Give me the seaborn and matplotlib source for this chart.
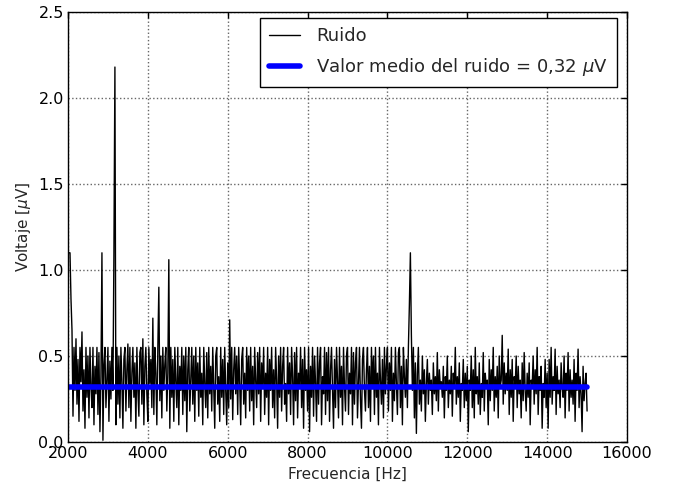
import matplotlib
matplotlib.use("Agg")
import matplotlib.pyplot as plt
import seaborn as sns
import pandas as pd

freq_start = 2000
freq_step = 25
voltaje = [
    1.10, 1.10, 1.10, 0.83, 0.65, 0.15, 0.55, 0.30, 0.60, 0.22, 0.48, 0.12, 0.55, 0.35, 0.64, 0.18, 0.42, 0.08, 0.55, 0.26,
    0.50, 0.14, 0.55, 0.32, 0.20, 0.55, 0.10, 0.44, 0.28, 0.55, 0.16, 0.52, 0.06, 0.38, 1.10, 0.01, 0.45, 0.55, 0.20, 0.36,
    0.55, 0.12, 0.47, 0.25, 0.55, 0.30, 1.10, 2.18, 0.10, 0.55, 0.22, 0.50, 0.14, 0.55, 0.35, 0.08, 0.48, 0.55, 0.18, 0.42,
    0.57, 0.20, 0.55, 0.12, 0.40, 0.55, 0.26, 0.46, 0.08, 0.55, 0.30, 0.15, 0.52, 0.55, 0.22, 0.60, 0.10, 0.44, 0.55, 0.28,
    0.12, 0.55, 0.34, 0.48, 0.20, 0.72, 0.16, 0.55, 0.40, 0.10, 0.55, 0.90, 0.24, 0.50, 0.14, 0.55, 0.30, 0.45, 0.55, 0.18,
    0.40, 1.06, 0.08, 0.55, 0.26, 0.48, 0.12, 0.55, 0.35, 0.20, 0.55, 0.10, 0.44, 0.30, 0.55, 0.16, 0.50, 0.24, 0.55, 0.06,
    0.42, 0.55, 0.18, 0.36, 0.55, 0.22, 0.50, 0.12, 0.55, 0.30, 0.46, 0.15, 0.55, 0.26, 0.40, 0.10, 0.55, 0.34, 0.20, 0.52,
    0.14, 0.55, 0.28, 0.44, 0.18, 0.55, 0.32, 0.08, 0.50, 0.55, 0.22, 0.38, 0.12, 0.55, 0.26, 0.48, 0.16, 0.55, 0.30, 0.10,
    0.46, 0.20, 0.71, 0.25, 0.55, 0.13, 0.42, 0.55, 0.28, 0.50, 0.16, 0.55, 0.34, 0.10, 0.48, 0.55, 0.22, 0.40, 0.14, 0.55,
    0.30, 0.50, 0.18, 0.55, 0.24, 0.44, 0.10, 0.55, 0.36, 0.20, 0.52, 0.28, 0.55, 0.12, 0.46, 0.32, 0.55, 0.16, 0.40, 0.26,
    0.55, 0.10, 0.48, 0.30, 0.55, 0.20, 0.42, 0.14, 0.55, 0.36, 0.08, 0.50, 0.26, 0.55, 0.18, 0.44, 0.55, 0.22, 0.34, 0.12,
    0.55, 0.28, 0.46, 0.16, 0.55, 0.38, 0.10, 0.52, 0.24, 0.55, 0.14, 0.40, 0.32, 0.55, 0.20, 0.48, 0.08, 0.55, 0.30, 0.42,
    0.18, 0.55, 0.06, 0.44, 0.26, 0.55, 0.15, 0.50, 0.34, 0.12, 0.55, 0.22, 0.46, 0.55, 0.10, 0.38, 0.28, 0.55, 0.16, 0.52,
    0.24, 0.55, 0.12, 0.42, 0.55, 0.30, 0.08, 0.48, 0.20, 0.55, 0.36, 0.14, 0.55, 0.26, 0.44, 0.10, 0.55, 0.32, 0.18, 0.50,
    0.55, 0.16, 0.40, 0.28, 0.55, 0.10, 0.52, 0.22, 0.46, 0.55, 0.14, 0.34, 0.55, 0.24, 0.08, 0.48, 0.55, 0.30, 0.18, 0.42,
    0.55, 0.20, 0.44, 0.12, 0.55, 0.32, 0.50, 0.16, 0.55, 0.26, 0.40, 0.10, 0.55, 0.36, 0.22, 0.48, 0.14, 0.55, 0.28, 0.44,
    0.55, 0.18, 0.46, 0.30, 0.55, 0.12, 0.40, 0.24, 0.55, 0.34, 0.16, 0.52, 0.55, 0.20, 0.44, 0.10, 0.55, 0.38, 0.26, 0.48,
    0.20, 0.55, 0.80, 1.10, 0.62, 0.30, 0.55, 0.14, 0.46, 0.05, 0.40, 0.55, 0.22, 0.36, 0.18, 0.50, 0.28, 0.42, 0.12, 0.34,
    0.48, 0.22, 0.40, 0.30, 0.36, 0.16, 0.46, 0.28, 0.38, 0.24, 0.52, 0.18, 0.42, 0.32, 0.35, 0.26, 0.44, 0.14, 0.38, 0.30,
    0.50, 0.20, 0.36, 0.28, 0.44, 0.15, 0.40, 0.32, 0.55, 0.22, 0.38, 0.26, 0.46, 0.12, 0.34, 0.30, 0.48, 0.20, 0.40, 0.24,
    0.44, 0.06, 0.36, 0.30, 0.50, 0.20, 0.42, 0.14, 0.55, 0.28, 0.38, 0.22, 0.46, 0.16, 0.34, 0.26, 0.52, 0.18, 0.40, 0.32,
    0.36, 0.10, 0.48, 0.24, 0.42, 0.30, 0.55, 0.18, 0.38, 0.26, 0.44, 0.14, 0.50, 0.32, 0.36, 0.62, 0.22, 0.46, 0.28, 0.40,
    0.30, 0.54, 0.16, 0.42, 0.26, 0.48, 0.12, 0.38, 0.32, 0.50, 0.20, 0.44, 0.28, 0.36, 0.14, 0.46, 0.24, 0.52, 0.30, 0.18,
    0.40, 0.26, 0.46, 0.10, 0.36, 0.32, 0.50, 0.22, 0.42, 0.28, 0.55, 0.16, 0.38, 0.30, 0.44, 0.08, 0.34, 0.26, 0.48, 0.20,
    0.40, 0.08, 0.48, 0.26, 0.55, 0.22, 0.38, 0.30, 0.54, 0.16, 0.44, 0.28, 0.36, 0.20, 0.46, 0.32, 0.26, 0.50, 0.14, 0.40,
    0.30, 0.52, 0.18, 0.42, 0.26, 0.36, 0.22, 0.48, 0.12, 0.40, 0.30, 0.54, 0.20, 0.38, 0.28, 0.06, 0.44, 0.24, 0.34, 0.40, 0.18,
]
valor_medio = 0.32
xticks = [2000, 4000, 6000, 8000, 10000, 12000, 14000, 16000]
yticks = [0.0, 0.5, 1.0, 1.5, 2.0, 2.5]

frecuencia = [freq_start + i * freq_step for i in range(len(voltaje))]
df = pd.DataFrame({"Frecuencia": frecuencia, "Voltaje": voltaje})
df_medio = pd.DataFrame({"Frecuencia": [frecuencia[0], frecuencia[-1]],
                         "Voltaje": [valor_medio, valor_medio]})

sns.set_style("white")
plt.rcParams.update({
    "font.family": ["DejaVu Sans"],
    "font.size": 11,
    "xtick.direction": "in",
    "ytick.direction": "in",
    "xtick.top": True,
    "ytick.right": True,
    "axes.edgecolor": "black",
    "axes.linewidth": 1.0,
    "xtick.color": "black",
    "ytick.color": "black",
})

fig = plt.figure(figsize=(6.76, 4.91), dpi=100)
ax = fig.add_axes([68 / 676, 49 / 491, 559 / 676, 430 / 491])

sns.lineplot(data=df, x="Frecuencia", y="Voltaje", color="black", lw=1.0,
             label="Ruido", ax=ax, estimator=None)
sns.lineplot(data=df_medio, x="Frecuencia", y="Voltaje", color="blue", lw=4,
             label=r"Valor medio del ruido = 0,32 $\mu$V", ax=ax, estimator=None)

ax.set_xlim(2000, 16000)
ax.set_ylim(0, 2.5)
ax.set_xticks(xticks)
ax.set_yticks(yticks)
ax.set_xticklabels([str(t) for t in xticks], fontsize=11.5)
ax.set_yticklabels([f"{t:.1f}" for t in yticks], fontsize=11.5)
ax.tick_params(axis="both", which="major", length=4, width=1, pad=3,
               top=True, right=True)
ax.grid(True, linestyle=":", color="0.4", linewidth=1)
ax.set_axisbelow(True)
for s in ax.spines.values():
    s.set_visible(True)
    s.set_color("black")

ax.set_xlabel("Frecuencia [Hz]", fontsize=11)
ax.set_ylabel(r"Voltaje [$\mu$V]", fontsize=11)

leg = ax.legend(loc="upper right", fontsize=13, frameon=True, fancybox=False,
                edgecolor="black", framealpha=1,
                bbox_to_anchor=(617 / 676, (491 - 18) / 491),
                bbox_transform=fig.transFigure, borderaxespad=0,
                handlelength=1.7, handletextpad=0.9, borderpad=0.5,
                labelspacing=0.6)
leg.get_frame().set_linewidth(1.0)

fig.savefig("out.png", dpi=100, facecolor="white")
